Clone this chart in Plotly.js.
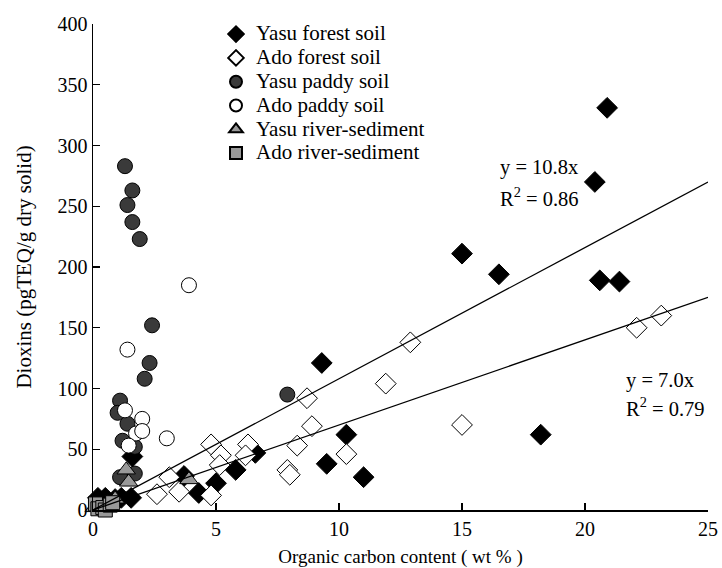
<!DOCTYPE html>
<html>
<head>
<meta charset="utf-8">
<script src="https://cdn.plot.ly/plotly-3.0.1.min.js"></script>
<style>html,body{margin:0;padding:0;background:#fff;}#chart{width:722px;height:568px;}</style>
</head>
<body>
<div id="chart"></div>
<script>
// ---- data ----
const yasuForestX = [20.9, 20.4, 15.0, 16.5, 20.6, 21.4, 18.2, 9.3, 10.3, 9.5, 11.0, 6.6, 5.8, 5.0, 4.3, 3.7, 1.6, 0.2, 0.5, 0.9, 1.15, 1.55];
const yasuForestY = [331, 270, 211, 194, 189, 188, 62, 121, 62, 38, 27, 47, 33, 22, 14, 28, 44, 10, 10, 9, 10, 10];

const adoForestX = [23.1, 22.1, 15.0, 12.9, 11.9, 8.7, 8.9, 8.3, 10.3, 7.9, 8.0, 4.8, 5.2, 5.15, 6.3, 6.2, 4.8, 3.5, 2.6, 3.1];
const adoForestY = [160, 150, 70, 138, 104, 92, 69, 53, 46, 33, 29, 54, 45, 37, 54, 45, 12, 15, 13, 27];

const yasuPaddyX = [1.3, 1.6, 1.4, 1.6, 1.9, 2.4, 2.3, 2.1, 1.1, 1.0, 1.4, 1.2, 1.7, 1.1, 1.7, 7.9];
const yasuPaddyY = [283, 263, 251, 237, 223, 152, 121, 108, 90, 80, 71, 57, 52, 27, 30, 95];

const adoPaddyX = [3.9, 1.4, 1.3, 2.0, 1.75, 2.0, 1.45, 3.0];
const adoPaddyY = [185, 132, 82, 75, 63, 65, 53, 59];

const yasuRiverX = [0.05, 0.6, 0.9, 1.35, 1.45, 3.9];
const yasuRiverY = [2, 6, 9, 33, 23, 25];

const adoRiverX = [0.1, 0.2, 0.4, 0.5, 0.7, 0.8];
const adoRiverY = [5, 1, 2, 0, 4, 6];

const seriesNames = ['Yasu forest soil', 'Ado forest soil', 'Yasu paddy soil', 'Ado paddy soil', 'Yasu river-sediment', 'Ado river-sediment'];
const trendSlopes = [10.8, 7.0];
const trendLabels = [['y = 10.8x', 'R<sup>2</sup> = 0.86'], ['y = 7.0x', 'R<sup>2</sup> = 0.79']];
const trendXRange = [0, 25];
const xTicks = [0, 5, 10, 15, 20, 25];
const yTicks = [0, 50, 100, 150, 200, 250, 300, 350, 400];

// ---- chart ----
const FONT = 'Liberation Serif, Times New Roman, serif';
function series(i, x, y, symbol, size, fill) {
  return {
    type: 'scatter', mode: 'markers',
    name: '<span style="font-size:21px">' + seriesNames[i] + '</span>',
    x: x, y: y, cliponaxis: false,
    marker: {symbol: symbol, size: size, color: fill, line: {color: '#000', width: 1}}
  };
}
const traces = [
  series(0, yasuForestX, yasuForestY, 'diamond', 16, '#000000'),
  series(1, adoForestX, adoForestY, 'diamond', 16, '#ffffff'),
  series(2, yasuPaddyX, yasuPaddyY, 'circle', 15, '#3a3a3a'),
  series(3, adoPaddyX, adoPaddyY, 'circle', 15, '#ffffff'),
  series(4, yasuRiverX, yasuRiverY, 'triangle-up', 16, '#999999'),
  series(5, adoRiverX, adoRiverY, 'square', 14, '#999999')
];
trendSlopes.forEach(function (s) {
  traces.push({
    type: 'scatter', mode: 'lines', showlegend: false, hoverinfo: 'skip',
    x: trendXRange, y: trendXRange.map(function (v) { return s * v; }),
    line: {color: '#000', width: 1.3}
  });
});

const annFont = {family: FONT, size: 20.5, color: '#000'};
const layout = {
  width: 722, height: 568,
  margin: {l: 93, r: 14, t: 24, b: 58},
  paper_bgcolor: '#fff', plot_bgcolor: '#fff',
  font: {family: FONT, size: 20, color: '#000'},
  showlegend: true,
  legend: {
    x: 0.2, y: 1.014, xanchor: 'left', yanchor: 'top',
    bgcolor: 'rgba(0,0,0,0)', borderwidth: 0,
    font: {family: FONT, size: 16, color: '#000'},
    itemsizing: 'constant',
    tracegroupgap: 0
  },
  xaxis: {
    range: [0, 25], tickvals: xTicks, ticktext: xTicks.map(String),
    ticks: 'inside', ticklen: 7, tickcolor: '#000', tickwidth: 1.2,
    showline: true, linecolor: '#000', linewidth: 1.5,
    showgrid: false, zeroline: false,
    tickfont: {family: FONT, size: 20},
    title: {text: 'Organic carbon content ( wt % )', font: {family: FONT, size: 19}}
  },
  yaxis: {
    range: [0, 400], tickvals: yTicks, ticktext: yTicks.map(String),
    ticks: 'inside', ticklen: 7, tickcolor: '#000', tickwidth: 1.2,
    showline: true, linecolor: '#000', linewidth: 1.5,
    showgrid: false, zeroline: false, automargin: true,
    tickfont: {family: FONT, size: 20},
    title: {text: 'Dioxins (pgTEQ/g dry solid)', font: {family: FONT, size: 21}, standoff: 20}
  },
  annotations: [
    {x: 16.45, y: 282, text: trendLabels[0][0]},
    {x: 16.45, y: 258, text: trendLabels[0][1]},
    {x: 21.6, y: 107, text: trendLabels[1][0]},
    {x: 21.6, y: 85, text: trendLabels[1][1]}
  ].map(function (a) {
    return Object.assign({xref: 'x', yref: 'y', xanchor: 'left', yanchor: 'middle', showarrow: false, font: annFont}, a);
  })
};
Plotly.newPlot('chart', traces, layout, {displayModeBar: false, staticPlot: true});
</script>
</body>
</html>
